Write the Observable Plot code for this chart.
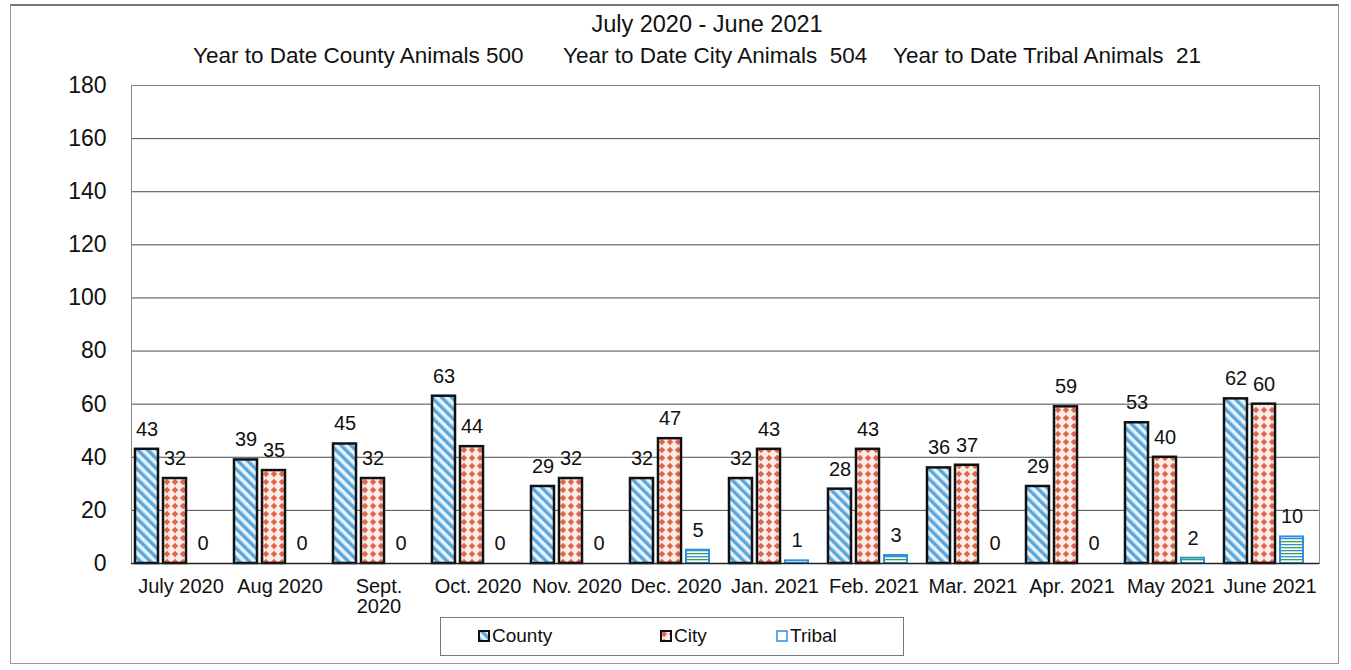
<!DOCTYPE html>
<html>
<head>
<meta charset="utf-8">
<script src="https://cdn.jsdelivr.net/npm/d3@7"></script>
<script src="https://cdn.jsdelivr.net/npm/@observablehq/plot@0.6"></script>
<style>
  body { margin: 0; background: #fff; font-family: "Liberation Sans", Arial, sans-serif; color: #111; }
  #page { position: relative; width: 1351px; height: 670px; overflow: hidden; }
  #outer { position: absolute; left: 10px; top: 4px; width: 1329px; height: 660px; border: 1px solid #999; border-top: 2px solid #777; box-sizing: border-box; }
  #title { position: absolute; left: 0; top: 0; width: 1351px; height: 70px; font-size: 22.5px; }
  #t1 { position: absolute; top: 11px; left: 0; width: 1414px; text-align: center; font-size: 23.5px; }
  .seg { position: absolute; top: 43px; white-space: pre; }
  #chart { position: absolute; left: 0; top: 70px; }
  #legend { position: absolute; left: 440px; top: 617px; width: 464px; height: 39px; border: 1px solid #777; box-sizing: border-box; font-size: 19px; background: #fff; }
  .item { position: absolute; top: 7px; display: flex; align-items: center; gap: 2px; }
  .sw { width: 12px; height: 12px; }
</style>
</head>
<body>
<svg width="0" height="0" style="position:absolute">
  <defs>
    <pattern id="pCounty" patternUnits="userSpaceOnUse" width="7" height="7" patternTransform="rotate(-45)">
      <rect width="7" height="7" fill="#e6f3fb"></rect>
      <rect width="3.4" height="7" fill="#5aa6dc"></rect>
    </pattern>
    <pattern id="pCity" patternUnits="userSpaceOnUse" width="8" height="8">
      <rect width="8" height="8" fill="#fcece7"></rect>
      <polygon points="4,0.8 7.2,4 4,7.2 0.8,4" fill="#df664d"></polygon>
    </pattern>
    <pattern id="pTribal" patternUnits="userSpaceOnUse" width="6" height="6">
      <rect width="6" height="6" fill="#ffffff"></rect>
      <rect y="0" width="6" height="1.3" fill="#2e8fe0"></rect>
      <rect y="3" width="6" height="1.3" fill="#3aa63a"></rect>
    </pattern>
  </defs>
</svg>
<div id="page">
  <div id="outer"></div>
  <div id="title">
    <div id="t1">July 2020 - June 2021</div>
    <div class="seg" style="left:193px">Year to Date County Animals 500</div>
    <div class="seg" style="left:563px">Year to Date City Animals  504</div>
    <div class="seg" style="left:893px">Year to Date Tribal Animals  21</div>
  </div>
  <div id="chart"></div>
  <div id="legend">
    <div class="item" style="left:37px"><svg class="sw"><rect x="1" y="1" width="10" height="10" fill="url(#pCounty)" stroke="#111" stroke-width="2"></rect></svg><span>County</span></div>
    <div class="item" style="left:219px"><svg class="sw"><rect x="1" y="1" width="10" height="10" fill="url(#pCity)" stroke="#111" stroke-width="2"></rect></svg><span>City</span></div>
    <div class="item" style="left:335px"><svg class="sw"><rect x="1" y="1" width="10" height="10" fill="#fff" stroke="#2e8fe0" stroke-width="1.5"></rect></svg><span>Tribal</span></div>
  </div>
</div>
<script>
const months = ["July 2020","Aug 2020","Sept. 2020","Oct. 2020","Nov. 2020","Dec. 2020","Jan. 2021","Feb. 2021","Mar. 2021","Apr. 2021","May 2021","June 2021"];
const monthLabels = ["July 2020","Aug 2020","Sept.\n2020","Oct. 2020","Nov. 2020","Dec. 2020","Jan. 2021","Feb. 2021","Mar. 2021","Apr. 2021","May 2021","June 2021"];
const series = ["County","City","Tribal"];
const county = [43,39,45,63,29,32,32,28,36,29,53,62];
const city   = [32,35,32,44,32,47,43,43,37,59,40,60];
const tribal = [0,0,0,0,0,5,1,3,0,0,2,10];
const yTicks = [0,20,40,60,80,100,120,140,160,180];

const values = {County: county, City: city, Tribal: tribal};
const rows = [];
for (const s of series) months.forEach((m, i) => rows.push({month: m, series: s, value: values[s][i]}));
const bySeries = s => rows.filter(d => d.series === s);
const labelOf = new Map(months.map((m, i) => [m, monthLabels[i]]));

const chart = Plot.plot({
  width: 1351,
  height: 560,
  marginLeft: 128,
  marginRight: 29,
  marginTop: 15,
  marginBottom: 67,
  style: {fontFamily: "Liberation Sans, Arial, sans-serif", color: "#111", background: "transparent"},
  fx: {domain: months, padding: 0},
  x: {domain: series, paddingInner: 0.17, paddingOuter: 0.3, align: 0.2, axis: null},
  y: {domain: [0, 180]},
  marks: [
    Plot.ruleY(yTicks.slice(1), {stroke: "#4a4a4a", strokeWidth: 1}),
    Plot.frame({facet: "super", stroke: "#888", strokeWidth: 1}),
    Plot.axisY({ticks: yTicks, label: null, tickSize: 0, tickPadding: 25, fontSize: 23, fill: "#111"}),
    Plot.axisFx({anchor: "bottom", label: null, tickSize: 0, tickPadding: 15, fontSize: 20, fill: "#111", tickFormat: m => labelOf.get(m)}),
    Plot.barY(bySeries("County"), {fx: "month", x: "series", y: "value", fill: "url(#pCounty)", stroke: "#111", strokeWidth: 2.5}),
    Plot.barY(bySeries("City"), {fx: "month", x: "series", y: "value", fill: "url(#pCity)", stroke: "#111", strokeWidth: 2.5}),
    Plot.barY(bySeries("Tribal").filter(d => d.value > 0), {fx: "month", x: "series", y: "value", fill: "url(#pTribal)", stroke: "#2e8fe0", strokeWidth: 2}),
    Plot.ruleY([0], {stroke: "#222", strokeWidth: 1.5}),
    Plot.text(rows, {fx: "month", x: "series", y: "value", text: d => String(d.value), dy: -20, fontSize: 20, fill: "#111"})
  ]
});
document.getElementById("chart").appendChild(chart);
</script>
</body>
</html>
